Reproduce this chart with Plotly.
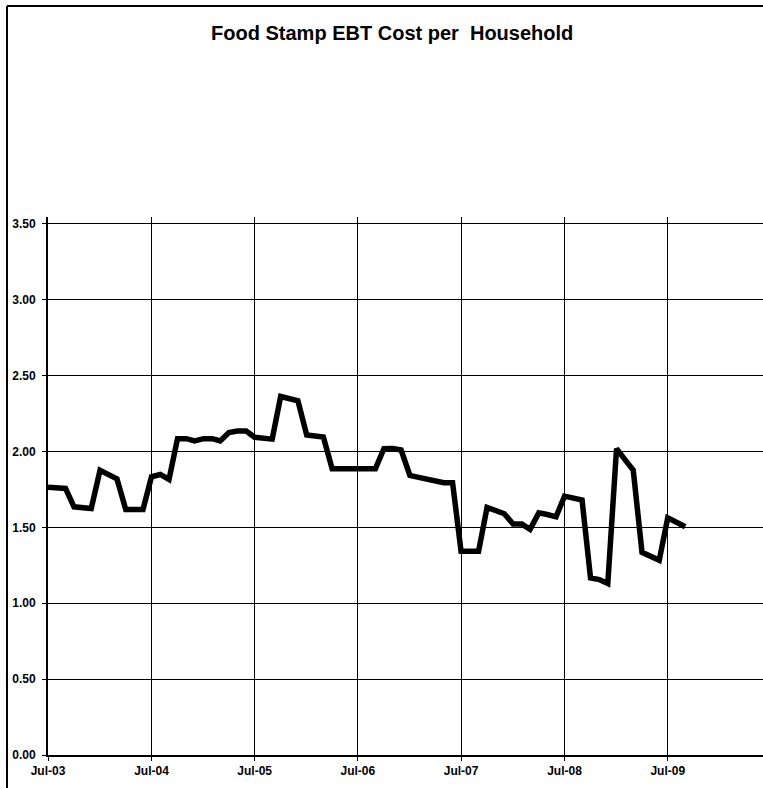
import pandas as pd
import plotly.graph_objects as go

# monthly EBT cost per household, Jul-03 .. Sep-09
months = pd.date_range("2003-07-01", "2009-09-01", freq="MS")
cost = [
    1.765, 1.765, 1.757, 1.636, 1.630, 1.625,   # Jul-03 .. Dec-03
    1.876, 1.850, 1.820, 1.618, 1.618, 1.618,   # Jan-04 .. Jun-04
    1.834, 1.849, 1.816, 2.085, 2.085, 2.070,   # Jul-04 .. Dec-04
    2.085, 2.085, 2.070, 2.125, 2.135, 2.135,   # Jan-05 .. Jun-05
    2.094, 2.090, 2.082, 2.363, 2.350, 2.334,   # Jul-05 .. Dec-05
    2.109, 2.105, 2.096, 1.887, 1.887, 1.887,   # Jan-06 .. Jun-06
    1.887, 1.887, 1.887, 2.019, 2.020, 2.010,   # Jul-06 .. Dec-06
    1.843, 1.830, 1.820, 1.805, 1.795, 1.795,   # Jan-07 .. Jun-07
    1.343, 1.343, 1.343, 1.632, 1.615, 1.590,   # Jul-07 .. Dec-07
    1.522, 1.522, 1.488, 1.596, 1.585, 1.570,   # Jan-08 .. Jun-08
    1.706, 1.695, 1.680, 1.167, 1.156, 1.130,   # Jul-08 .. Dec-08
    2.019, 1.944, 1.878, 1.336, 1.310, 1.283,   # Jan-09 .. Jun-09
    1.563, 1.535, 1.504,                        # Jul-09 .. Sep-09
]

tick_dates = pd.date_range("2003-07-01", "2009-07-01", freq="12MS")
tick_text = [d.strftime("%b-%y") for d in tick_dates]

FONT = "Liberation Sans, Arial, sans-serif"

fig = go.Figure(go.Scatter(
    x=months, y=cost, mode="lines",
    line=dict(color="black", width=5.5),
    showlegend=False,
))

fig.update_layout(
    width=763, height=788,
    paper_bgcolor="white", plot_bgcolor="white",
    margin=dict(l=48, r=0, t=217, b=33),
    font=dict(family=FONT, size=12, color="black", weight="bold"),
    title=dict(text="Food Stamp EBT Cost per\u00a0 Household",
               x=0.514, xref="container", xanchor="center",
               y=1 - 33 / 788, yref="container", yanchor="middle",
               font=dict(family=FONT, size=20, color="black", weight="bold")),
    xaxis=dict(
        range=["2003-07-01", "2010-06-03"],
        tickvals=tick_dates, ticktext=tick_text,
        showgrid=True, gridcolor="black", gridwidth=1,
        showline=True, linecolor="black", linewidth=2,
        ticks="outside", ticklen=4, tickcolor="black", tickwidth=1,
        ticklabelstandoff=0,
        zeroline=False,
    ),
    yaxis=dict(
        range=[0, 3.546],
        tickvals=[0, 0.5, 1, 1.5, 2, 2.5, 3, 3.5],
        tickformat=".2f",
        showgrid=True, gridcolor="black", gridwidth=1,
        showline=True, linecolor="black", linewidth=2,
        ticks="outside", ticklen=4, tickcolor="black", tickwidth=1,
        ticklabelstandoff=4,
        zeroline=False,
    ),
    shapes=[
        # chart frame (left and top edges)
        dict(type="line", xref="paper", yref="paper",
             x0=(7 - 48) / 715, x1=(7 - 48) / 715, y0=(755 - 6) / 538, y1=-0.1,
             line=dict(color="black", width=2)),
        dict(type="line", xref="paper", yref="paper",
             x0=(7 - 48) / 715, x1=1.01, y0=(755 - 6) / 538, y1=(755 - 6) / 538,
             line=dict(color="black", width=2)),
    ],
)

fig.write_html("out.html",
               config={"displayModeBar": False},
               post_script="document.body.style.margin='0';"
                           "document.body.style.overflow='hidden';")
